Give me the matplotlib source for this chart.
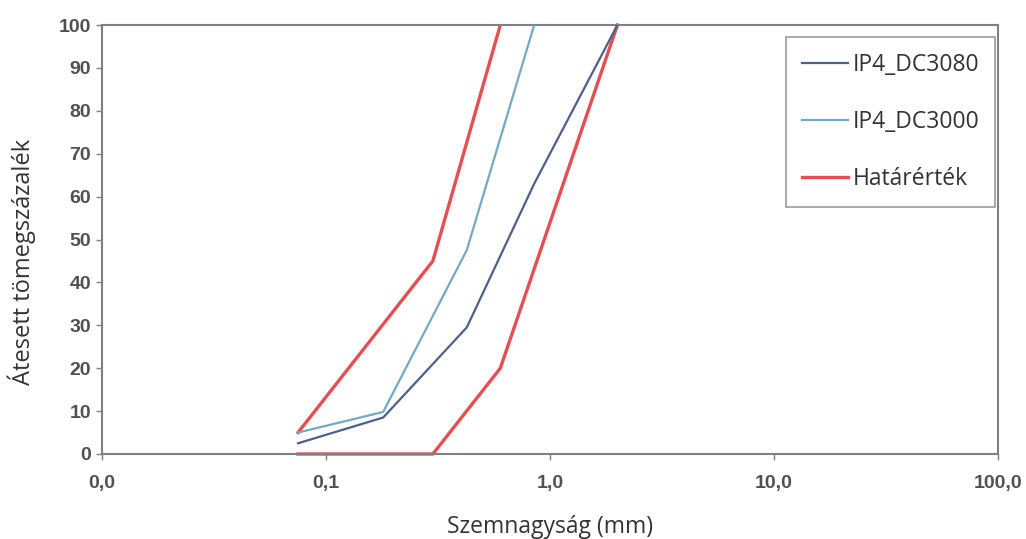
import matplotlib
matplotlib.use("Agg")
import matplotlib.pyplot as plt
from matplotlib.ticker import FixedLocator, NullLocator

# Data
dc3080_x = [0.075, 0.18, 0.425, 0.85, 2.0]
dc3080_y = [2.5, 8.5, 29.5, 63, 100]

dc3000_x = [0.075, 0.18, 0.425, 0.85]
dc3000_y = [5, 9.8, 47.5, 100]

upper_limit_x = [0.075, 0.3, 0.6]
upper_limit_y = [5, 45, 100]

lower_limit_x = [0.075, 0.3, 0.6, 2.0]
lower_limit_y = [0, 0, 20, 100]

x_ticks = [0.01, 0.1, 1, 10, 100]
x_tick_labels = ["0,0", "0,1", "1,0", "10,0", "100,0"]
y_ticks = list(range(0, 101, 10))

W, H = 1026, 539
fig = plt.figure(figsize=(W / 100, H / 100), dpi=100)
ax = fig.add_axes([102 / W, 1 - 454 / H, (998 - 102) / W, (454 - 25) / H])

c_dark = "#4d5f8e"
c_light = "#72a9c9"
c_red = "#e54f52"

ax.plot(dc3080_x, dc3080_y, color=c_dark, lw=1.6, label="IP4_DC3080", zorder=3)
ax.plot(dc3000_x, dc3000_y, color=c_light, lw=1.6, label="IP4_DC3000", zorder=3)
ax.plot(upper_limit_x, upper_limit_y, color=c_red, lw=2.4, label="Határérték", zorder=2)
ax.plot(lower_limit_x, lower_limit_y, color=c_red, lw=2.4, zorder=2, clip_on=False)

ax.set_xscale("log")
ax.set_xlim(0.01, 100)
ax.set_ylim(0, 100)
ax.xaxis.set_major_locator(FixedLocator(x_ticks))
ax.xaxis.set_minor_locator(NullLocator())
ax.set_xticklabels(x_tick_labels)
ax.set_yticks(y_ticks)

for s in ax.spines.values():
    s.set_color("#808080")
    s.set_linewidth(1.5)

ax.tick_params(axis="both", colors="#808080", length=4, width=1, labelcolor="#505050",
               labelsize=14)
ax.tick_params(axis="x", pad=11)
ax.tick_params(axis="y", pad=4)
for t in ax.get_xticklabels() + ax.get_yticklabels():
    t.set_fontfamily("Liberation Sans")
    t.set_fontweight("bold")

ax.set_xlabel("Szemnagyság (mm)", fontsize=16.5, family="Open Sans", color="#333333", labelpad=17)
ax.set_ylabel("Átesett tömegszázalék", fontsize=17, family="Open Sans", color="#333333")
ax.yaxis.set_label_coords(36 / W, 1 - 262 / H, transform=fig.transFigure)

leg = ax.legend(loc="upper left", bbox_to_anchor=(786 / W, 1 - 37 / H),
                bbox_transform=fig.transFigure, frameon=True, fancybox=False,
                prop={"family": "Open Sans", "size": 16.5}, labelspacing=1.43,
                handlelength=2.0, handletextpad=0.2, borderpad=0.7,
                borderaxespad=0)
leg.get_frame().set_edgecolor("#808080")
leg.get_frame().set_linewidth(1.2)
for t in leg.get_texts():
    t.set_color("#333333")

fig.savefig("out.png", dpi=100)
